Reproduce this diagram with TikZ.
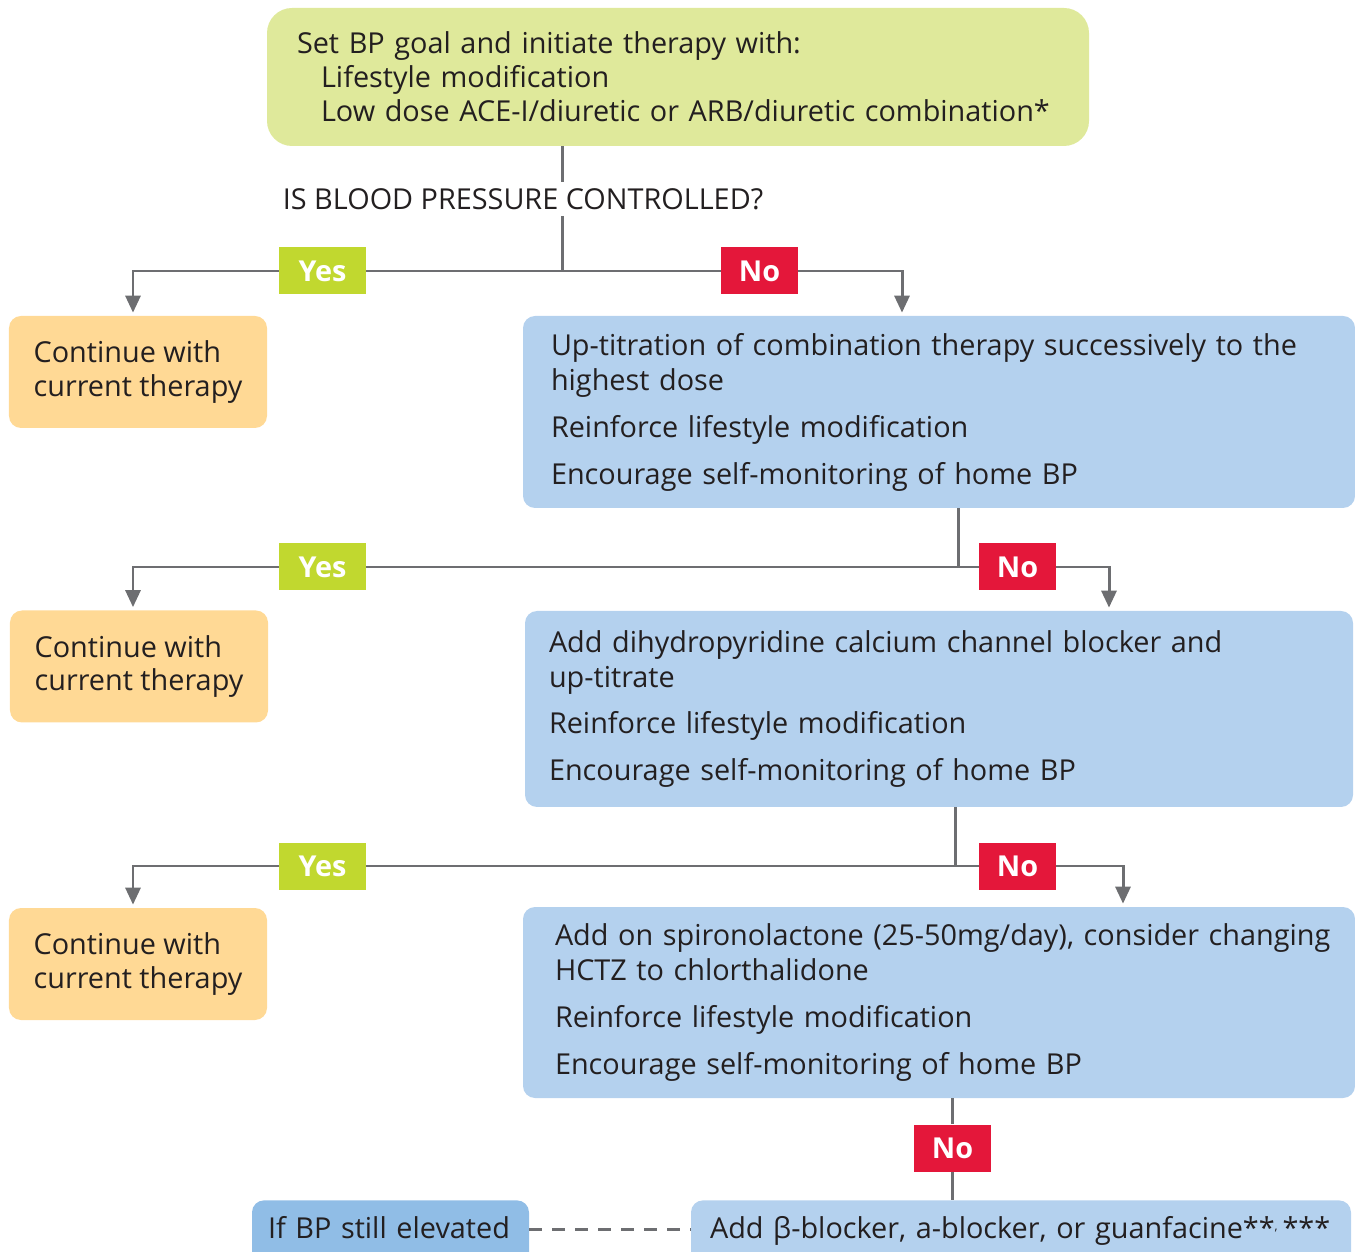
\documentclass[tikz,border=0pt]{standalone}
\usepackage{fontspec}
\setmainfont{Open Sans}
\usetikzlibrary{arrows.meta, calc}
\definecolor{bpgreen}{HTML}{DFE99B}
\definecolor{bporange}{HTML}{FFD995}
\definecolor{bpblue}{HTML}{B4D1EE}
\definecolor{bpdark}{HTML}{90BDE6}
\definecolor{bpyes}{HTML}{C1D82F}
\definecolor{bpno}{HTML}{E4173A}
\definecolor{bpline}{HTML}{6D6E71}
\definecolor{bptext}{HTML}{231F20}
\tikzset{every node/.append style = {font=\fontsize{16.4}{19.9}\selectfont, text=bptext}}
\tikzset{startbox/.style = {fill=bpgreen, rounded corners=0.5cm, minimum width=16.44cm, minimum height=2.76cm, inner xsep=0.6cm, text width=15.24cm, align=left, font=\fontsize{16.4}{19.3}\selectfont}}
\tikzset{keepbox/.style = {fill=bporange, rounded corners=0.24cm, minimum width=5.16cm, minimum height=2.24cm, align=left, font=\fontsize{16.4}{18.8}\selectfont}}
\tikzset{treatbox/.style = {fill=bpblue, rounded corners=0.24cm, minimum width=16.64cm, minimum height=3.84cm, inner xsep=0.56cm, text width=15.52cm, align=left}}
\tikzset{endbox/.style = {rounded corners=0.24cm, anchor=north, inner ysep=0.1cm, text height=0.66cm, text depth=0.6cm, align=left}}
\tikzset{yeslabel/.style = {fill=bpyes, text=white, font=\fontsize{16.4}{17}\selectfont\bfseries, minimum width=1.74cm, minimum height=0.94cm}}
\tikzset{nolabel/.style = {fill=bpno, text=white, font=\fontsize{16.4}{17}\selectfont\bfseries, minimum width=1.54cm, minimum height=0.94cm}}
\tikzset{link/.style = {draw=bpline, line width=1.7pt}}
\tikzset{arr/.style = {link, -{Triangle[length=0.34cm, width=0.3cm]}}}

\begin{document}
\begin{tikzpicture}
    \useasboundingbox (0,0) rectangle (27.1,-25.04);
    \clip (0,0) rectangle (27.1,-25.04);
    \node[startbox] (start) at (13.56,-1.54) {Set BP goal and initiate therapy with:\\
        \hspace*{0.48cm}Lifestyle modification\\
        \hspace*{0.48cm}\mbox{Low dose ACE-I/diuretic or ARB/diuretic combination*}};
    \node (ask) at (10.46,-3.98) {IS BLOOD PRESSURE CONTROLLED?};
    \coordinate (c1) at (11.24,-5.42);
    \node[yeslabel] (yes1) at (6.45,-5.42) {Yes};
    \node[nolabel] (no1) at (15.19,-5.42) {No};
    \node[keepbox] (keep1) at (2.76,-7.44) {Continue with\\current therapy};
    \node[treatbox] (treat1) at (18.78,-8.24) {Up-titration of combination therapy successively to the\\highest dose\\[0.24cm]
        Reinforce lifestyle modification\\[0.24cm]
        Encourage self-monitoring of home BP};
    \draw[link] (start.south -| c1) -- (ask.north -| c1);
    \draw[link] (ask.south -| c1) -- (c1);
    \draw[arr, shorten >=0.06cm] (c1) -- (yes1) -| ([xshift=-0.1cm]keep1.north);
    \draw[arr, shorten >=0.06cm] (c1) -- (no1) -| ([xshift=-0.74cm]treat1.north);

    \coordinate (c2) at (19.16,-11.34);
    \node[yeslabel] (yes2) at (6.45,-11.34) {Yes};
    \node[nolabel] (no2) at (20.35,-11.34) {No};
    \node[keepbox] (keep2) at (2.78,-13.33) {Continue with\\current therapy};
    \node[treatbox, minimum width=16.56cm, minimum height=3.92cm, inner xsep=0.48cm, text width=15.6cm] (treat2) at (18.78,-14.18) {Add dihydropyridine calcium channel blocker and\\up-titrate\\[0.24cm]
        Reinforce lifestyle modification\\[0.24cm]
        Encourage self-monitoring of home BP};
    \draw[link] (treat1.south -| c2) -- (c2);
    \draw[arr, shorten >=0.06cm] (c2) -- (yes2) -| ([xshift=-0.12cm]keep2.north);
    \draw[arr, shorten >=0.06cm] (c2) -- (no2) -| ([xshift=3.4cm]treat2.north);

    \coordinate (c3) at (19.10,-17.32);
    \node[yeslabel] (yes3) at (6.45,-17.32) {Yes};
    \node[nolabel] (no3) at (20.35,-17.32) {No};
    \node[keepbox] (keep3) at (2.76,-19.28) {Continue with\\current therapy};
    \node[treatbox, minimum height=3.82cm, inner xsep=0.64cm, text width=15.36cm] (treat3) at (18.78,-20.05) {\mbox{Add on spironolactone (25-50mg/day), consider changing}\\HCTZ to chlorthalidone\\[0.24cm]
        Reinforce lifestyle modification\\[0.24cm]
        Encourage self-monitoring of home BP};
    \draw[link] (treat2.south -| c3) -- (c3);
    \draw[arr, shorten >=0.06cm] (c3) -- (yes3) -| ([xshift=-0.1cm]keep3.north);
    \draw[arr, shorten >=0.06cm] (c3) -- (no3) -| ([xshift=3.68cm]treat3.north);

    \node[nolabel] (no4) at (19.05,-22.96) {No};
    \node[endbox, fill=bpblue, inner xsep=0.38cm, text width=12.44cm] (addon) at (20.42,-24.0) {\mbox{Add β-blocker, a-blocker, or guanfacine**\raisebox{0.5ex}{\scriptsize,}\,***}};
    \node[endbox, fill=bpdark, inner xsep=0.32cm, text width=4.9cm] (elev) at (7.81,-24.0) {\mbox{If BP still elevated}};
    \draw[link] (treat3.south -| no4) -- (no4);
    \draw[link] (no4) -- (addon.north -| no4);
    \draw[link, dash pattern=on 0.26cm off 0.2cm] ([yshift=0.15cm]elev.east) -- ([yshift=0.15cm]addon.west);
\end{tikzpicture}
\end{document}
